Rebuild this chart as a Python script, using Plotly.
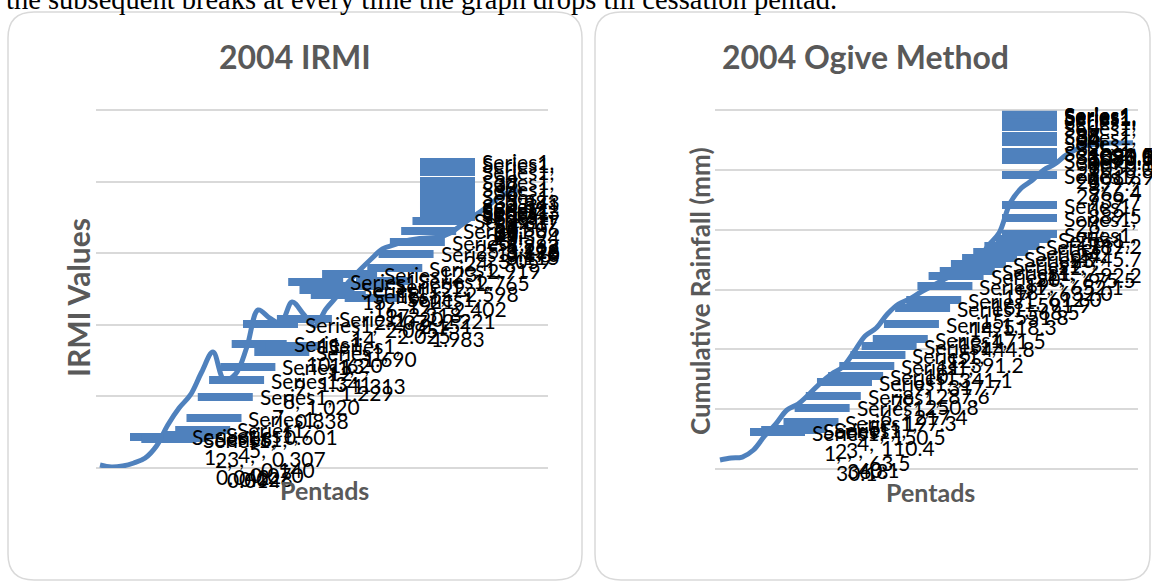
import plotly.graph_objects as go

W, H = 1152, 582

# ---------------- data ----------------
series_name = "Series1"
pentads = list(range(1, 39))
irmi_values = [0.042, 0.014, 0.028, 0.070, 0.140, 0.307, 0.601, 0.838, 1.020, 1.341,
               1.620, 1.229, 1.313, 1.690, 2.207, 2.095, 2.025, 2.318, 2.151, 1.983,
               2.221, 2.402, 2.598, 2.765, 2.919, 3.059, 3.115, 3.170, 3.198, 3.212,
               3.226, 3.282, 3.394, 3.506, 3.617, 3.743, 3.841, 3.883]
ogive_values = [30.1, 36.8, 40.1, 63.5, 110.4, 150.5, 197.3, 217.4, 250.8, 287.6,
                317.7, 341.1, 391.2, 444.8, 471.5, 518.3, 551.8, 568.5, 591.9, 612.0,
                632.0, 652.1, 675.5, 692.2, 745.7, 789.2, 889.5, 939.7, 966.4, 999.9,
                1019.9, 1050.0, 1070.1, 1083.5, 1086.8, 1090.1, 1090.5, 1091.0]
titles = ["2004 IRMI", "2004 Ogive Method"]
y_titles = ["IRMI Values", "Cumulative Rainfall (mm)"]
x_title = "Pentads"
top_text = "the subsequent breaks at every time the graph drops till cessation pentad."

BLUE = "#4f81bd"
GRID = "#d9d9d9"
TITLE_C = "#595959"
FONT = "Lato"

panels = [
    dict(x=pentads, y=irmi_values, fmt="{:.3f}", xdom=[96, 548], ydom=[468, 106.4],
         xr=[0.646, 40.65], yr=[0, 5.05], dtick=1, key_limit=420,
         box=[8, 12, 582, 580], title_x=295, ytitle=(78, 298, 30), xtitle=(324, 490)),
    dict(x=pentads, y=ogive_values, fmt="{:.1f}", xdom=[715, 1138], ydom=[469, 107.2],
         xr=[0.552, 38.45], yr=[0, 1210], dtick=200, key_limit=1002,
         box=[595, 12, 1150, 580], title_x=865, ytitle=(700, 291, 26), xtitle=(930, 492)),
]

fig = go.Figure()
shapes = []
annotations = []


def rounded_rect(x0, y0, x1, y1, r):
    def px(x):
        return x / W

    def py(y):
        return 1 - y / H

    return (f"M {px(x0 + r)},{py(y0)} L {px(x1 - r)},{py(y0)} "
            f"Q {px(x1)},{py(y0)} {px(x1)},{py(y0 + r)} L {px(x1)},{py(y1 - r)} "
            f"Q {px(x1)},{py(y1)} {px(x1 - r)},{py(y1)} L {px(x0 + r)},{py(y1)} "
            f"Q {px(x0)},{py(y1)} {px(x0)},{py(y1 - r)} L {px(x0)},{py(y0 + r)} "
            f"Q {px(x0)},{py(y0)} {px(x0 + r)},{py(y0)} Z")


for k, p in enumerate(panels):
    sfx = "" if k == 0 else str(k + 1)
    xa, ya = "x" + sfx, "y" + sfx
    fig.add_trace(go.Scatter(x=p["x"], y=p["y"], mode="lines",
                             line=dict(color=BLUE, width=5, shape="spline"),
                             xaxis=xa, yaxis=ya, showlegend=False, hoverinfo="skip"))
    fig.update_layout(**{
        "xaxis" + sfx: dict(domain=[p["xdom"][0] / W, p["xdom"][1] / W], range=p["xr"],
                            showgrid=False, zeroline=False, showline=False,
                            showticklabels=False, ticks="", anchor=ya),
        "yaxis" + sfx: dict(domain=[1 - p["ydom"][0] / H, 1 - p["ydom"][1] / H], range=p["yr"],
                            dtick=p["dtick"], showgrid=True, gridcolor=GRID, gridwidth=1.5,
                            zeroline=True, zerolinecolor=GRID, zerolinewidth=1.5,
                            showline=False, showticklabels=False, ticks="", anchor=xa),
    })
    # panel border
    bx0, by0, bx1, by1 = p["box"]
    shapes.append(dict(type="path", xref="paper", yref="paper",
                       path=rounded_rect(bx0, by0, bx1, by1, 26),
                       line=dict(color=GRID, width=1.5), layer="below"))
    # data labels with legend keys
    d0, d1 = p["xdom"]
    r0, r1 = p["xr"]
    for xi, v in zip(p["x"], p["y"]):
        pxl = d0 + (xi - r0) / (r1 - r0) * (d1 - d0)
        dx = min(30, p["key_limit"] - pxl)
        shapes.append(dict(type="line", xref=xa, yref=ya,
                           xsizemode="pixel", xanchor=xi, x0=dx, x1=dx + 55,
                           ysizemode="pixel", yanchor=v, y0=28, y1=28,
                           line=dict(color=BLUE, width=8), layer="above"))
        lines = [f"{series_name},", f"{xi},", p["fmt"].format(v)]
        for j, t in enumerate(lines):
            annotations.append(dict(x=xi, y=v, xref=xa, yref=ya, text=t, showarrow=False,
                                    xanchor="left", yanchor="middle",
                                    xshift=dx + 60 + 12 * j, yshift=28 - 20 * j,
                                    font=dict(family=FONT, size=21, color="black")))
    # titles
    annotations.append(dict(x=p["title_x"] / W, y=1 - 57 / H, xref="paper", yref="paper",
                            text=f"<b>{titles[k]}</b>", showarrow=False,
                            xanchor="center", yanchor="middle",
                            font=dict(family=FONT, size=32, color=TITLE_C)))
    tx, ty, ts = p["ytitle"]
    annotations.append(dict(x=tx / W, y=1 - ty / H, xref="paper", yref="paper",
                            text=f"<b>{y_titles[k]}</b>", showarrow=False, textangle=-90,
                            xanchor="center", yanchor="middle",
                            font=dict(family=FONT, size=ts, color=TITLE_C)))
    annotations.append(dict(x=p["xtitle"][0] / W, y=1 - p["xtitle"][1] / H, xref="paper", yref="paper",
                            text=f"<b>{x_title}</b>", showarrow=False,
                            xanchor="center", yanchor="middle",
                            font=dict(family=FONT, size=25, color=TITLE_C)))

annotations.append(dict(x=4 / W, y=1 - 17 / H, xref="paper", yref="paper", text=top_text,
                        showarrow=False, xanchor="left", yanchor="bottom",
                        font=dict(family="Liberation Serif", size=28.5, color="black")))

fig.update_layout(width=W, height=H, margin=dict(l=0, r=0, t=0, b=0),
                  paper_bgcolor="white", plot_bgcolor="rgba(0,0,0,0)",
                  shapes=shapes, annotations=annotations, showlegend=False)

fig.write_html("out.html", config={"displayModeBar": False},
               post_script="document.body.style.margin='0';")
